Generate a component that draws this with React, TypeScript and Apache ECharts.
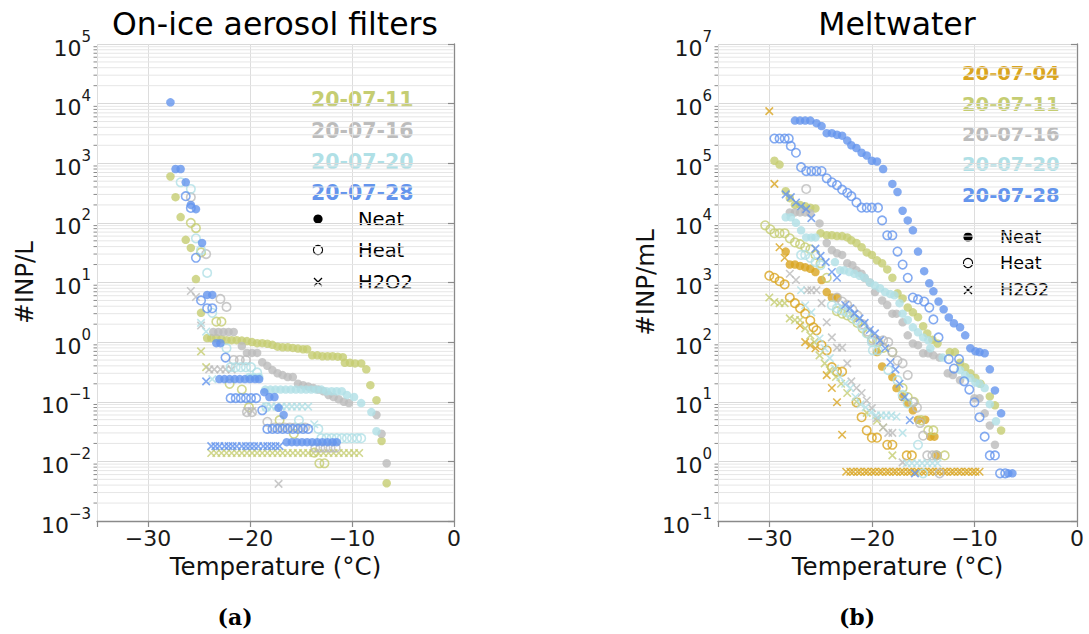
import React, { useEffect, useRef } from 'react';
import * as echarts from 'echarts';

const FONT = "'DejaVu Sans', sans-serif";

// ---------- legend / labels ----------
const dateLabels = ['20-07-04', '20-07-11', '20-07-16', '20-07-20', '20-07-28'];
const dateColors = ['#daa520', '#c5cd72', '#bcbcbc', '#b0e0e6', '#6495ed'];
const treatmentLabels = ['Neat', 'Heat', 'H2O2'];
const panelTitles = ['On-ice aerosol filters', 'Meltwater'];
const yAxisNames = ['#INP/L', '#INP/mL'];
const xAxisName = 'Temperature (°C)';
const panelTags = ['(a)', '(b)'];
const xRange = [-35, 0];
const yRangeAerosol = [1e-3, 1e5];
const yRangeMelt = [1e-1, 1e7];

// ---------- (a) On-ice aerosol filters: [T, #INP/L] ----------
const aer11Neat = [[-27.8,600],[-27.3,270],[-26.8,125],[-26.3,52],[-25.8,38],[-25.3,11.4],[-24.8,3.1],[-24.2,1.17],[-23.8,1.17],[-23.3,1.17],[-22.8,1.12],[-22.3,1.08],[-21.8,1.08],[-21.3,1.08],[-20.8,1.06],[-20.3,1.04],[-19.8,1.0],[-19.3,0.96],[-18.8,0.96],[-18.3,0.94],[-17.8,0.9],[-17.3,0.84],[-16.8,0.82],[-16.3,0.82],[-15.8,0.8],[-15.3,0.78],[-14.8,0.76],[-14.4,0.76],[-13.9,0.6],[-13.4,0.6],[-12.9,0.58],[-12.4,0.58],[-11.9,0.58],[-11.4,0.57],[-10.9,0.56],[-10.7,0.45],[-10.2,0.45],[-9.7,0.44],[-9.1,0.44],[-8.6,0.35],[-8.2,0.19],[-7.6,0.106],[-7.1,0.022],[-6.6,0.0043]];
const aer11Heat = [[-25.8,100],[-25.3,82],[-24.8,32],[-23.3,2.2],[-22.8,2.2],[-22.0,0.2],[-20.8,0.16],[-20.1,0.081],[-17.1,0.049],[-15.7,0.029],[-13.7,0.014],[-13.2,0.0093],[-12.7,0.0093]];
const aer11H2o2 = [[-24.8,0.7],[-24.3,0.38],[-23.8,0.0138],[-23.3,0.0138],[-22.8,0.0138],[-22.3,0.0138],[-21.8,0.0138],[-21.3,0.0138],[-20.8,0.0138],[-20.3,0.0138],[-19.8,0.0138],[-19.3,0.0138],[-18.8,0.0138],[-18.3,0.0138],[-17.8,0.0138],[-17.3,0.0138],[-16.8,0.0138],[-16.3,0.0138],[-15.8,0.0138],[-15.3,0.0138],[-14.8,0.0138],[-14.3,0.0138],[-13.8,0.0138],[-13.3,0.0138],[-12.8,0.0138],[-12.3,0.0138],[-11.8,0.0138],[-11.3,0.0138],[-10.8,0.0138],[-10.3,0.0138],[-9.8,0.0138],[-9.3,0.0138]];
const aer16Neat = [[-23.6,1.48],[-23.1,1.48],[-22.6,1.48],[-22.1,1.48],[-21.6,1.48],[-20.8,0.86],[-20.3,0.66],[-19.8,0.66],[-19.3,0.66],[-18.8,0.46],[-18.3,0.4],[-17.8,0.34],[-17.3,0.3],[-16.8,0.28],[-16.3,0.26],[-15.8,0.26],[-15.3,0.2],[-14.8,0.19],[-14.3,0.18],[-13.8,0.17],[-13.3,0.16],[-12.8,0.15],[-12.3,0.13],[-11.8,0.12],[-11.3,0.11],[-10.8,0.1],[-10.3,0.095],[-7.6,0.06],[-7.1,0.029],[-6.6,0.0093]];
const aer16Heat = [[-25.8,270],[-24.3,30],[-22.9,5.3],[-22.3,3.9],[-21.6,0.5],[-21.0,0.5],[-20.4,0.5],[-20.3,0.067],[-19.8,0.067],[-18.3,0.046],[-17.6,0.037],[-17.1,0.037],[-16.6,0.037],[-16.1,0.037],[-15.6,0.037],[-15.0,0.037],[-14.6,0.037],[-13.6,0.017],[-13.1,0.017],[-12.6,0.017],[-12.1,0.017],[-11.6,0.017]];
const aer16H2o2 = [[-25.8,7.2],[-25.3,5.7],[-24.8,1.9],[-24.0,0.35],[-23.5,0.35],[-22.9,0.35],[-22.4,0.35],[-21.8,0.35],[-20.3,0.07],[-19.8,0.07],[-17.2,0.0042]];
const aer20Neat = [[-20.1,0.26],[-19.6,0.26],[-19.1,0.26],[-18.5,0.16],[-18.0,0.16],[-17.5,0.16],[-17.0,0.16],[-16.5,0.16],[-16.0,0.16],[-15.5,0.16],[-15.0,0.16],[-14.5,0.16],[-14.0,0.16],[-13.5,0.16],[-13.0,0.16],[-12.5,0.15],[-12.0,0.15],[-11.5,0.15],[-11.0,0.15],[-10.5,0.13],[-9.8,0.12],[-9.1,0.095],[-8.1,0.067],[-7.6,0.032]];
const aer20Heat = [[-26.8,480],[-25.8,370],[-25.3,55],[-24.8,35],[-24.2,14.5],[-23.7,3.1],[-22.3,0.79],[-21.9,0.38],[-21.4,0.38],[-20.9,0.38],[-20.4,0.38],[-19.9,0.38],[-19.3,0.31],[-18.4,0.081],[-15.2,0.049],[-13.3,0.035],[-13.0,0.0245],[-12.5,0.0245],[-12.0,0.0245],[-11.5,0.0245],[-11.0,0.0245],[-10.5,0.0245],[-10.0,0.0245],[-9.5,0.0245],[-9.1,0.0245]];
const aer20H2o2 = [[-24.8,2.1],[-24.3,1.5],[-23.7,0.24],[-18.4,0.083],[-17.9,0.083],[-17.4,0.083],[-16.9,0.083],[-16.4,0.083],[-15.9,0.083],[-15.4,0.083],[-14.9,0.083],[-14.3,0.083],[-13.7,0.042]];
const aer28Neat = [[-27.8,1.05e4],[-27.3,800],[-26.8,800],[-26.3,480],[-25.8,200],[-25.3,170],[-24.7,46],[-24.2,6.2],[-23.7,6.2],[-23.3,0.96],[-22.9,0.96],[-23.0,0.24],[-22.5,0.24],[-22.0,0.24],[-21.5,0.24],[-21.0,0.24],[-20.5,0.24],[-20.0,0.24],[-19.5,0.24],[-19.1,0.24],[-18.6,0.145],[-18.1,0.12],[-17.6,0.12],[-17.2,0.079],[-16.7,0.06],[-16.4,0.021],[-15.9,0.021],[-15.4,0.021],[-14.9,0.021],[-14.4,0.021],[-13.9,0.021],[-13.4,0.021],[-12.9,0.021],[-12.4,0.021],[-11.9,0.021],[-11.5,0.021]];
const aer28Heat = [[-26.3,280],[-25.8,178],[-25.3,26],[-24.8,5.0],[-24.2,3.7],[-23.7,3.7],[-22.4,0.55],[-21.9,0.115],[-21.4,0.115],[-20.9,0.115],[-20.4,0.115],[-19.9,0.115],[-19.4,0.115],[-18.8,0.072],[-18.3,0.035],[-17.8,0.035],[-17.3,0.035],[-16.8,0.035],[-16.3,0.035],[-15.8,0.035],[-15.3,0.035],[-14.8,0.035],[-14.3,0.035]];
const aer28H2o2 = [[-24.3,0.22],[-23.8,0.018],[-23.4,0.018],[-23.0,0.018],[-22.5,0.018],[-22.1,0.018],[-21.7,0.018],[-21.3,0.018],[-20.8,0.018],[-20.4,0.018],[-20.0,0.018],[-19.6,0.018],[-19.2,0.018],[-18.7,0.018],[-18.3,0.018],[-17.9,0.018],[-17.5,0.018],[-17.1,0.018]];

// ---------- (b) Meltwater: [T, #INP/mL] ----------
const melt04Neat = [[-28.4,3.3e3],[-28.0,2.0e3],[-27.5,2.0e3],[-27.0,1.9e3],[-26.5,1.8e3],[-26.0,1.7e3],[-25.5,1.5e3],[-24.9,1.1e3],[-24.4,690],[-23.9,560],[-23.4,560],[-19.5,68],[-19.0,39],[-18.0,26],[-17.6,17],[-17.0,12],[-16.5,9.4],[-16.0,7.2],[-15.5,5.0],[-14.8,5.0],[-14.3,2.6],[-13.9,2.6],[-13.6,1.26]];
const melt04Heat = [[-30.0,1.3e3],[-29.5,1.2e3],[-29.0,1.05e3],[-28.5,930],[-28.0,560],[-27.5,450],[-27.0,370],[-26.5,300],[-26.0,230],[-25.7,177],[-25.4,158],[-24.9,89],[-24.4,73],[-23.9,38],[-23.4,32],[-22.9,32],[-21.5,9.8],[-21.0,5.5],[-20.5,3.3],[-20.0,2.5],[-19.5,2.5],[-18.5,1.9],[-18.0,1.9],[-16.6,1.26],[-16.1,1.26]];
const melt04H2o2 = [[-30.0,7.5e5],[-29.5,4.5e4],[-29.0,3.9e3],[-28.5,2.6e3],[-27.0,190],[-26.5,100],[-26.0,89],[-25.5,79],[-24.4,28],[-23.9,17],[-23.4,9.8],[-22.9,2.8],[-22.5,0.67],[-22.1,0.67],[-21.8,0.67],[-21.4,0.67],[-21.1,0.67],[-20.7,0.67],[-20.4,0.67],[-20.0,0.67],[-19.7,0.67],[-19.3,0.67],[-19.0,0.67],[-18.6,0.67],[-18.3,0.67],[-17.9,0.67],[-17.6,0.67],[-17.2,0.67],[-16.9,0.67],[-16.5,0.67],[-16.2,0.67],[-15.8,0.67],[-15.5,0.67],[-15.1,0.67],[-14.8,0.67],[-14.4,0.67],[-14.1,0.67],[-13.7,0.67],[-13.4,0.67],[-13.0,0.67],[-12.7,0.67],[-12.3,0.67],[-12.0,0.67],[-11.6,0.67],[-11.3,0.67],[-10.9,0.67],[-10.6,0.67],[-10.2,0.67],[-9.9,0.67],[-9.5,0.67]];
const melt11Neat = [[-29.5,1.1e5],[-29.0,9.5e4],[-28.4,3.4e4],[-28.0,2.6e4],[-27.5,2.0e4],[-27.0,2.0e4],[-26.5,1.9e4],[-26.0,1.8e4],[-25.5,1.75e4],[-25.0,6.7e3],[-24.4,6.2e3],[-23.9,6.2e3],[-23.4,6.0e3],[-22.9,6.0e3],[-22.4,5.7e3],[-22.0,5.1e3],[-21.5,4.6e3],[-21.0,3.9e3],[-20.5,3.2e3],[-20.0,2.9e3],[-19.5,2.35e3],[-19.0,2.1e3],[-18.5,1.66e3],[-18.0,1.2e3],[-17.5,660],[-17.0,540],[-16.5,380],[-16.0,316],[-15.5,262],[-15.0,185],[-14.6,140],[-14.1,110],[-13.6,95],[-12.4,68],[-11.9,68],[-11.4,45],[-10.9,38],[-10.4,30],[-9.9,25],[-9.4,20],[-8.5,12.3],[-8.0,8.7],[-7.4,3.3]];
const melt11Heat = [[-30.4,9.1e3],[-29.9,7.8e3],[-29.5,6.7e3],[-29.0,6.7e3],[-28.5,6.7e3],[-28.0,5.5e3],[-27.5,4.7e3],[-27.0,4.4e3],[-26.5,3.9e3],[-26.0,3.6e3],[-25.5,2.9e3],[-25.0,2.1e3],[-24.4,1.2e3],[-23.4,330],[-22.9,300],[-22.4,280],[-21.9,250],[-21.4,210],[-20.9,170],[-20.4,140],[-19.9,115],[-19.4,100],[-18.9,80],[-18.0,68],[-17.0,17],[-16.5,12],[-15.9,10],[-15.2,4.9],[-14.5,3.3],[-14.0,3.3],[-13.7,1.26],[-12.9,1.26]];
const melt11H2o2 = [[-30.0,560],[-29.5,470],[-29.0,450],[-28.5,450],[-28.0,250],[-27.5,235],[-27.0,235],[-26.5,170],[-26.0,130],[-25.6,100],[-25.1,60],[-24.6,44],[-24.1,34],[-23.5,26],[-23.0,20],[-22.4,14],[-21.5,10],[-20.5,6.5],[-19.5,4.8],[-18.9,3.7],[-18.0,1.26]];
const melt16Neat = [[-28.0,1.5e4],[-27.5,1.5e4],[-27.0,1.5e4],[-26.5,1.5e4],[-26.0,1.45e4],[-25.1,9.8e3],[-24.4,4.6e3],[-23.9,3.5e3],[-23.4,3.1e3],[-22.9,2.9e3],[-22.4,2.1e3],[-21.9,1.95e3],[-21.5,1.6e3],[-21.0,1.4e3],[-20.7,1.2e3],[-20.2,1.0e3],[-19.7,690],[-19.0,500],[-18.5,420],[-18.0,300],[-17.6,300],[-17.0,215],[-16.5,130],[-16.0,95],[-15.5,89],[-15.0,65],[-14.5,65],[-14.0,60],[-13.4,55],[-12.6,30],[-12.1,28],[-11.4,23],[-10.0,11.5],[-9.5,11.5],[-9.0,6.4],[-8.5,4.0],[-8.0,1.9]];
const melt16Heat = [[-26.4,3.7e4],[-23.4,560],[-22.9,480],[-22.4,420],[-21.9,350],[-21.4,280],[-20.9,200],[-20.4,150],[-20.0,107],[-19.5,107],[-18.9,107],[-18.4,100],[-18.0,68],[-17.5,49],[-17.0,44],[-16.5,28],[-16.0,9.8],[-15.6,8],[-15.3,4.4],[-15.0,2.7],[-14.6,1.26],[-14.1,1.26],[-13.7,1.26],[-13.4,0.63]];
const melt16H2o2 = [[-28.0,1.4e3],[-27.4,1.1e3],[-26.3,740],[-25.9,740],[-25.4,740],[-24.9,450],[-24.4,215],[-23.9,120],[-23.4,81],[-22.9,81],[-22.4,44],[-22.0,22],[-21.5,17],[-21.0,14],[-20.5,10.5],[-20.0,7.8],[-19.5,5.3],[-18.9,3.7],[-18.4,3.0],[-18.0,3.0],[-17.0,0.96]];
const melt20Neat = [[-28.4,1.24e4],[-27.9,1.24e4],[-27.4,1.0e4],[-26.9,7.5e3],[-26.4,5.7e3],[-25.9,5.7e3],[-25.5,5.7e3],[-23.6,2.2e3],[-23.1,1.6e3],[-22.7,1.6e3],[-22.2,1.5e3],[-21.7,1.4e3],[-21.2,1.3e3],[-20.7,1.2e3],[-20.2,1.0e3],[-19.7,890],[-19.2,800],[-18.7,690],[-18.2,640],[-17.8,610],[-17.3,450],[-17.0,300],[-16.5,235],[-16.0,177],[-15.5,146],[-15.0,120],[-14.5,107],[-14.3,79],[-13.1,55],[-11.4,34],[-10.9,28],[-10.4,25],[-9.9,21],[-9.5,20],[-9.0,17],[-8.5,9.1],[-7.9,4.7]];
const melt20Heat = [[-26.9,2.9e3],[-26.5,2.9e3],[-26.0,2.6e3],[-25.5,2.2e3],[-25.0,1.95e3],[-23.9,415],[-23.4,370],[-22.9,340],[-22.4,316],[-22.0,282],[-21.5,235],[-21.0,190],[-20.5,140],[-20.0,100],[-19.9,73],[-19.4,73],[-18.4,34],[-17.5,23],[-17.0,13],[-16.5,9.4],[-15.5,1.9],[-15.0,0.63]];
const melt20H2o2 = [[-26.9,740],[-26.5,415],[-25.9,316],[-25.1,115],[-24.6,79],[-24.1,54],[-23.6,36],[-23.1,26],[-22.6,20],[-22.1,17],[-21.6,12],[-21.1,9.1],[-20.6,8.1],[-20.1,6.6],[-19.6,5.9],[-19.1,5.9],[-18.6,5.9],[-18.1,5.9],[-17.6,5.6],[-17.0,3.0],[-16.6,0.93],[-16.1,0.93],[-15.6,0.93],[-15.1,0.93],[-14.6,0.93],[-14.1,0.93],[-13.6,0.93]];
const melt28Neat = [[-27.5,5.2e5],[-27.0,5.2e5],[-26.5,5.2e5],[-26.0,5.2e5],[-25.4,4.7e5],[-24.9,4.2e5],[-24.4,3.2e5],[-23.9,3.2e5],[-23.4,3.0e5],[-22.9,2.9e5],[-22.4,2.4e5],[-22.0,2.0e5],[-21.5,1.8e5],[-21.0,1.5e5],[-20.5,1.35e5],[-20.0,1.1e5],[-19.5,1.07e5],[-18.9,8.0e4],[-18.0,4.5e4],[-17.5,3.3e4],[-17.0,1.6e4],[-16.5,1.1e4],[-16.0,7.5e3],[-15.5,3.3e3],[-14.9,1.55e3],[-14.4,970],[-14.0,710],[-13.5,480],[-13.0,355],[-12.5,260],[-12.0,207],[-11.4,177],[-10.9,130],[-10.4,79],[-9.9,70],[-9.5,68],[-9.0,65],[-8.5,35],[-8.0,15.5],[-7.4,6.4],[-6.7,0.63],[-6.3,0.63]];
const melt28Heat = [[-29.5,2.6e5],[-29.0,2.6e5],[-28.5,2.6e5],[-28.1,2.6e5],[-27.9,1.95e5],[-27.4,1.5e5],[-26.9,8.6e4],[-26.4,7.4e4],[-25.9,7.4e4],[-25.4,7.4e4],[-24.9,7.4e4],[-24.4,5.6e4],[-23.9,4.8e4],[-23.4,4.3e4],[-22.9,3.6e4],[-22.4,3.2e4],[-22.0,2.8e4],[-21.5,2.2e4],[-21.0,1.8e4],[-20.5,1.8e4],[-20.0,1.8e4],[-19.4,1.8e4],[-19.0,1.1e4],[-18.5,6.2e3],[-18.0,6.2e3],[-17.5,3.3e3],[-17.0,2.0e3],[-16.5,1.2e3],[-16.0,560],[-15.5,520],[-14.9,480],[-14.4,380],[-14.0,240],[-13.5,120],[-12.5,52],[-12.0,36],[-11.5,52],[-11.0,22],[-10.5,16],[-10.0,9.8],[-9.5,5.5],[-9.0,2.6],[-8.5,1.26],[-8.0,1.26],[-7.5,0.63],[-7.0,0.63]];
const melt28H2o2 = [[-28.4,3.0e4],[-27.9,2.7e4],[-27.4,2.2e4],[-26.9,1.9e4],[-26.4,1.7e4],[-25.9,1.2e4],[-25.5,3.7e3],[-25.0,2.8e3],[-24.5,2.2e3],[-23.9,1.5e3],[-23.4,1.2e3],[-22.6,420],[-22.1,370],[-21.7,300],[-21.2,250],[-20.7,210],[-20.2,160],[-19.7,140],[-19.2,107],[-18.7,79],[-18.2,46],[-17.7,35],[-17.3,20],[-16.8,12],[-16.3,4.9],[-15.8,0.63]];

const aerosolSets = [
  [1, aer11Neat, aer11Heat, aer11H2o2],
  [2, aer16Neat, aer16Heat, aer16H2o2],
  [3, aer20Neat, aer20Heat, aer20H2o2],
  [4, aer28Neat, aer28Heat, aer28H2o2],
];
const meltSets = [
  [0, melt04Neat, melt04Heat, melt04H2o2],
  [1, melt11Neat, melt11Heat, melt11H2o2],
  [2, melt16Neat, melt16Heat, melt16H2o2],
  [3, melt20Neat, melt20Heat, melt20H2o2],
  [4, melt28Neat, melt28Heat, melt28H2o2],
];

const CROSS = 'path://M0,0L10,10M10,0L0,10';

function scatterSeries(name: string, data: number[][], color: string, kind: number, gi: number) {
  const base: any = {
    type: 'scatter',
    name,
    data,
    xAxisIndex: gi,
    yAxisIndex: gi,
    silent: true,
    z: 3,
    emphasis: { disabled: true },
  };
  if (kind === 0) {
    base.symbol = 'circle';
    base.symbolSize = 8.5;
    base.itemStyle = { color, borderWidth: 0 };
  } else if (kind === 1) {
    base.symbol = 'circle';
    base.symbolSize = 8.5;
    base.itemStyle = { color: 'rgba(0,0,0,0)', borderColor: color, borderWidth: 1.6 };
  } else {
    base.symbol = CROSS;
    base.symbolSize = 7.5;
    base.itemStyle = { color, borderColor: color, borderWidth: 1.6 };
  }
  return base;
}

function minorValues(lo: number, hi: number) {
  const out: number[][] = [];
  for (let d = lo; d < hi; d++) {
    for (let k = 2; k <= 9; k++) out.push([xRange[0], k * Math.pow(10, d)]);
  }
  return out;
}

function minorGridSeries(gi: number, lo: number, hi: number) {
  return {
    type: 'custom',
    xAxisIndex: gi,
    yAxisIndex: gi,
    silent: true,
    clip: false,
    z: 1,
    data: minorValues(lo, hi),
    renderItem: (params: any, api: any) => {
      const v = api.value(1);
      const p = api.coord([xRange[0], v]);
      const q = api.coord([xRange[1], v]);
      return {
        type: 'group',
        children: [
          { type: 'line', shape: { x1: p[0], y1: p[1], x2: q[0], y2: q[1] }, style: { stroke: '#e6e6e6', lineWidth: 1 } },
          { type: 'line', shape: { x1: p[0] - 3.5, y1: p[1], x2: p[0], y2: p[1] }, style: { stroke: '#8a8a8a', lineWidth: 1 } },
        ],
      };
    },
  };
}

const supFormatter = (v: number) => {
  const e = Math.round(Math.log10(v));
  const s = e < 0 ? '\u2212' + (-e) : String(e);
  return '{b|10}{e|' + s + '}';
};
const xFormatter = (v: number) => {
  if (v === xRange[0]) return '';
  return v < 0 ? '\u2212' + Math.abs(v) : String(v);
};

function xAxis(gi: number) {
  return {
    gridIndex: gi,
    type: 'value',
    min: xRange[0],
    max: xRange[1],
    splitNumber: 4,
    axisLine: { show: true, onZero: false, lineStyle: { color: '#8a8a8a', width: 1.3 } },
    axisTick: { show: true, length: 6, lineStyle: { color: '#8a8a8a', width: 1.2 } },
    axisLabel: { fontSize: 22, fontFamily: FONT, color: '#1a1a1a', margin: 6, formatter: xFormatter },
    splitLine: { show: true, lineStyle: { color: '#dddddd', width: 1 } },
    name: xAxisName,
    nameLocation: 'middle',
    nameGap: 32,
    nameTextStyle: { fontSize: 24.5, fontFamily: FONT, color: '#111' },
  };
}

function yAxis(gi: number, range: number[], name: string, gap: number) {
  return {
    gridIndex: gi,
    type: 'log',
    logBase: 10,
    min: range[0],
    max: range[1],
    axisLine: { show: true, lineStyle: { color: '#8a8a8a', width: 1.3 } },
    axisTick: { show: true, length: 6, lineStyle: { color: '#8a8a8a', width: 1.2 } },
    axisLabel: {
      margin: 6,
      formatter: supFormatter,
      rich: {
        b: { fontSize: 22, fontFamily: FONT, color: '#1a1a1a', lineHeight: 30, verticalAlign: 'bottom' },
        e: { fontSize: 15, fontFamily: FONT, color: '#1a1a1a', lineHeight: 15, verticalAlign: 'top' },
      },
    },
    splitLine: { show: true, lineStyle: { color: '#d9d9d9', width: 1 } },
    name,
    nameLocation: 'middle',
    nameGap: gap,
    nameTextStyle: { fontSize: 24.5, fontFamily: FONT, color: '#111' },
  };
}

function legendGraphics(x0: number, ys: number[], idxs: number[], fs: number, mx: number, tx: number, mys: number[], mfs: number) {
  const els: any[] = [];
  idxs.forEach((di, i) => {
    els.push({
      type: 'text', x: x0, y: ys[i], silent: true,
      style: { text: dateLabels[di], fill: dateColors[di], font: `bold ${fs}px ${FONT}`, align: 'left', verticalAlign: 'middle' },
    });
  });
  els.push({ type: 'circle', silent: true, shape: { cx: mx, cy: mys[0], r: 4.6 }, style: { fill: '#000' } });
  els.push({ type: 'circle', silent: true, shape: { cx: mx, cy: mys[1], r: 4.6 }, style: { fill: 'none', stroke: '#000', lineWidth: 1.1 } });
  els.push({ type: 'line', silent: true, shape: { x1: mx - 4, y1: mys[2] - 4, x2: mx + 4, y2: mys[2] + 4 }, style: { stroke: '#000', lineWidth: 1.2 } });
  els.push({ type: 'line', silent: true, shape: { x1: mx + 4, y1: mys[2] - 4, x2: mx - 4, y2: mys[2] + 4 }, style: { stroke: '#000', lineWidth: 1.2 } });
  treatmentLabels.forEach((t, i) => {
    els.push({
      type: 'text', x: tx, y: mys[i], silent: true,
      style: { text: t, fill: '#000', font: `${mfs}px ${FONT}`, align: 'left', verticalAlign: 'middle' },
    });
  });
  return els;
}

export default function App() {
  const ref = useRef<HTMLDivElement>(null);
  useEffect(() => {
    if (!ref.current) return;
    const chart = echarts.init(ref.current, null, { renderer: 'svg' });
    const series: any[] = [minorGridSeries(0, -3, 5), minorGridSeries(1, -1, 7)];
    aerosolSets.forEach((s: any) => {
      const di = s[0];
      for (let k = 0; k < 3; k++) series.push(scatterSeries(`a-${dateLabels[di]}-${treatmentLabels[k]}`, s[k + 1], dateColors[di], k, 0));
    });
    meltSets.forEach((s: any) => {
      const di = s[0];
      for (let k = 0; k < 3; k++) series.push(scatterSeries(`m-${dateLabels[di]}-${treatmentLabels[k]}`, s[k + 1], dateColors[di], k, 1));
    });
    const graphics: any[] = [
      { type: 'text', x: 275, y: 24, silent: true, style: { text: panelTitles[0], font: `31.5px ${FONT}`, fill: '#000', align: 'center', verticalAlign: 'middle' } },
      { type: 'text', x: 897, y: 24, silent: true, style: { text: panelTitles[1], font: `31.5px ${FONT}`, fill: '#000', align: 'center', verticalAlign: 'middle' } },
      { type: 'text', x: 235, y: 617, silent: true, style: { text: panelTags[0], font: `bold 22px 'DejaVu Serif', serif`, fill: '#000', align: 'center', verticalAlign: 'middle' } },
      { type: 'text', x: 857, y: 617, silent: true, style: { text: panelTags[1], font: `bold 22px 'DejaVu Serif', serif`, fill: '#000', align: 'center', verticalAlign: 'middle' } },
      ...legendGraphics(311, [100, 131, 162, 193], [1, 2, 3, 4], 20.5, 318, 358, [219, 250, 282], 19.5),
      ...legendGraphics(962, [73, 104, 134, 164, 195], [0, 1, 2, 3, 4], 19.5, 968, 1000, [237, 263, 290], 17.5),
    ];
    chart.setOption({
      animation: false,
      backgroundColor: '#ffffff',
      grid: [
        { left: 97, top: 44, width: 357, height: 477 },
        { left: 718, top: 44, width: 359, height: 477 },
      ],
      xAxis: [xAxis(0), xAxis(1)],
      yAxis: [yAxis(0, yRangeAerosol, yAxisNames[0], 45), yAxis(1, yRangeMelt, yAxisNames[1], 58)],
      series,
      graphic: graphics,
    });
    return () => chart.dispose();
  }, []);
  return <div ref={ref} style={{ position: 'fixed', left: 0, top: 0, width: 1089, height: 634, background: '#fff' }} />;
}
